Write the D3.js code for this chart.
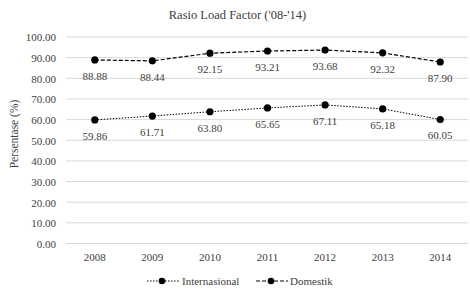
<!DOCTYPE html>
<html><head><meta charset="utf-8">
<script src="https://cdn.jsdelivr.net/npm/d3@7/dist/d3.min.js"></script>
<style>body{margin:0;background:#fff}</style>
</head><body>
<script>
const years = ["2008","2009","2010","2011","2012","2013","2014"];
const internasional = [59.86,61.71,63.80,65.65,67.11,65.18,60.05];
const domestik = [88.88,88.44,92.15,93.21,93.68,92.32,87.90];
const yTicks = [0,10,20,30,40,50,60,70,80,90,100];
const title = "Rasio Load Factor ('08-'14)";
const yTitle = "Persentase (%)";
const seriesNames = ["Internasional","Domestik"];

const FONT='"Liberation Serif"';
const W=470,H=289;
const svg=d3.select("body").append("svg").attr("width",W).attr("height",H);
const x=d3.scaleBand().domain(years).range([66,469]);
const y=d3.scaleLinear().domain([0,100]).range([243.5,37]);

svg.append("g").selectAll("line").data(yTicks).join("line")
 .attr("x1",66).attr("x2",468).attr("y1",d=>y(d)).attr("y2",d=>y(d))
 .attr("stroke","#d9d9d9").attr("stroke-width",1);

const yAxis=d3.axisLeft(y).tickValues(yTicks).tickFormat(d3.format(".2f")).tickSize(0).tickPadding(6);
const gy=svg.append("g").attr("transform","translate(62,0)").call(yAxis);
gy.select(".domain").remove();
gy.selectAll("text").style("font-family",FONT).style("font-size","11px").attr("fill","#404040").attr("dy","0.35em").attr("x",-6);

const xAxis=d3.axisBottom(x).tickSize(0).tickPadding(10);
const gx=svg.append("g").attr("transform",`translate(0,${y(0)})`).call(xAxis);
gx.select(".domain").remove();
gx.selectAll("text").style("font-family",FONT).style("font-size","11px").attr("fill","#404040");

svg.append("text").attr("x",237.5).attr("y",19).attr("text-anchor","middle").style("font-family",FONT).style("font-size","12.5px").attr("fill","#404040").text(title);
svg.append("text").attr("transform","translate(18,134) rotate(-90)").attr("text-anchor","middle").style("font-family",FONT).style("font-size","11.5px").attr("fill","#404040").text(yTitle);

const cx=d=>x(d)+x.bandwidth()/2;
const line=d3.line().x((d,i)=>cx(years[i])).y(d=>y(d));
const series=[{name:seriesNames[0],vals:internasional,dash:"1.5,1.5",w:1},{name:seriesNames[1],vals:domestik,dash:"4,2",w:1.2}];
series.forEach(s=>{
 svg.append("path").attr("d",line(s.vals)).attr("fill","none").attr("stroke","#000").attr("stroke-width",s.w).attr("stroke-dasharray",s.dash);
 svg.append("g").selectAll("circle").data(s.vals).join("circle")
  .attr("cx",(d,i)=>cx(years[i])).attr("cy",d=>y(d)).attr("r",3.6).attr("fill","#000");
 svg.append("g").selectAll("text").data(s.vals).join("text")
  .attr("x",(d,i)=>cx(years[i])).attr("y",d=>y(d)+20).attr("text-anchor","middle").style("font-family",FONT).style("font-size","11px").attr("fill","#404040")
  .text(d=>d.toFixed(2));
});

// legend
const lg=[{x0:147,x1:179,mx:162,tx:182},{x0:256,x1:288,mx:271,tx:290}];
series.forEach((s,i)=>{
 const L=lg[i], ly=281;
 svg.append("line").attr("x1",L.x0).attr("x2",L.x1).attr("y1",ly).attr("y2",ly).attr("stroke","#000").attr("stroke-width",s.w).attr("stroke-dasharray",s.dash);
 svg.append("circle").attr("cx",L.mx).attr("cy",ly).attr("r",3.3).attr("fill","#000");
 svg.append("text").attr("x",L.tx).attr("y",ly).attr("dy","0.35em").style("font-family",FONT).style("font-size","11px").attr("fill","#404040").text(s.name);
});
</script>
</body></html>
